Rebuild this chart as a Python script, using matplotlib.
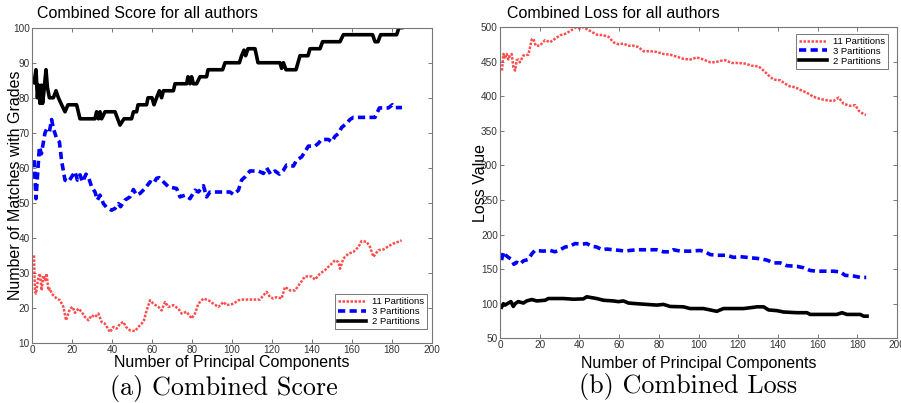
import matplotlib
matplotlib.use("Agg")
import matplotlib.pyplot as plt

# ---------------- data ----------------
# (a) Combined Score
score_p2_x = [1, 2, 2.7, 3.3, 4, 4.7, 5.3, 6, 7, 7.7, 8.7, 10.7, 12, 13.2, 14.8, 16.5, 18, 22.3, 24,
              31.5, 32.3, 33.2, 34, 34.8, 36.5, 41.5, 44, 46, 49.8, 50.7, 52.3, 53, 57.3, 58, 60, 61,
              62.3, 63.7, 64.8, 65.7, 70.7, 71.5, 77.3, 78, 79, 79.8, 80.7, 82.3, 84, 87.3, 88, 95.3,
              96.5, 103.7, 104.8, 106, 106.8, 108, 111.5, 113, 124, 124.8, 125.7, 127, 132, 134, 138,
              139, 144, 145.3, 154, 155.7, 170.3, 171.5, 173, 174.3, 182.3, 183.5, 184.8]
score_p2_y = [84.3, 88, 80, 83.6, 78.4, 83.6, 78.4, 82, 88, 83, 80, 80, 82, 80, 78, 76, 78, 78, 74,
              74, 76, 74, 76, 74, 76, 76, 72.2, 74, 74, 76, 76, 78, 78, 80, 80, 78,
              80, 82, 80, 82, 82, 84, 84, 86, 84, 86, 84, 84, 86, 86, 88, 88,
              90, 90, 92, 93.6, 92, 94, 94, 90, 90, 88.4, 90, 88, 88, 92, 92,
              94, 94, 96, 96, 98, 98, 96, 96, 98, 98, 100, 100]

score_p3_x = [1, 2, 3, 3.7, 4.7, 6.5, 7.3, 8.7, 9.8, 10.7, 12.3, 13.7, 14.8, 16.5, 18.2, 19.8, 21.5,
              22.7, 24, 25.3, 27, 28.2, 29.8, 31.5, 32.7, 34, 35.7, 37.3, 39.8, 41.5, 43.2, 44.3,
              46.5, 49, 50.7, 52.3, 54, 56.5, 59, 60.7, 62.3, 63.5, 65.7, 68.2, 72.3, 74, 76.5, 79,
              81.5, 83.2, 85.7, 87.3, 89, 92.3, 99, 100.7, 103.2, 104.8, 106.5, 109, 113.2, 115.7,
              117.3, 119.3, 121.5, 123.7, 125.7, 127.3, 130.7, 132.3, 134.8, 136.5, 138.2, 141.5,
              143.2, 144.8, 148.2, 149.8, 151.5, 153.2, 154.8, 157.3, 159, 160.7, 171.5, 173.7,
              178.2, 180.2, 181.5, 183.2, 185]
score_p3_y = [62.2, 51.2, 60, 66, 64, 70, 71, 70.3, 73.8, 71.2, 68.4, 67.4, 62, 56.5, 56, 57.4, 58.9,
              56.5, 58, 56, 58.2, 57.4, 54.6, 53.1, 50.8, 52.2, 49.8, 48.7, 47.9, 48.4, 49.8, 48.9,
              50.8, 51.7, 53.8, 52.2, 52.7, 54.1, 56, 55.5, 57, 57.2, 56, 54.6, 54.1, 51.7, 52.2, 51.2,
              53.6, 53.1, 54.9, 51.7, 53.1, 53.1, 53.1, 52.4, 53.6, 56.5, 57.4, 59.1, 59.1, 58.4,
              60, 58.2, 59.1, 58.2, 59.3, 60.8, 60.5, 62.2, 63.1, 64.6, 66.2, 66.2,
              67, 68.1, 68.1, 67.4, 69, 69.8, 71.5, 72.7, 73.8, 74.4, 74.4, 77.1,
              77.1, 78, 77.2, 77.2, 77.2]

score_p11_x = [1, 1.5, 2, 3.2, 4, 4.8, 5.7, 6.5, 7.3, 8.2, 9, 9.8, 10.7, 12.3, 14, 15.7, 17, 19, 20.3,
               21.5, 23.2, 24.8, 26.5, 28.2, 29.8, 31.5, 33.2, 34.8, 36.5, 39, 40.7, 42.3, 44, 45.7,
               47, 49, 51.5, 53.2, 54.8, 56, 57.3, 59, 60.7, 63.2, 64.8, 66.5, 68.2, 70.7, 73.2,
               74.8, 77.3, 79.8, 81.5, 83.2, 85.7, 88.2, 90.7, 93.2, 95.7, 97.3, 100.7, 103.2,
               105.7, 114, 115.7, 117.3, 119, 120.7, 122.3, 124.8, 126.5, 129, 131.5, 134, 136.5,
               139.8, 141.5, 144, 146.5, 149, 151.5, 153.2, 154, 155.7, 158.2, 160.7, 163.2, 164.8,
               167.3, 169, 170.7, 173.2, 175.7, 178.2, 180.7, 183.2, 184.8]
score_p11_y = [35, 24.6, 24.1, 28.9, 29.8, 25, 29.3, 27.9, 29.8, 25, 25.5, 24.1, 23.6, 22.7, 22.2,
               20.3, 16.5, 19.8, 20.3, 18.6, 19.8, 18.9, 17.4, 16.5, 17.9, 17.4, 18.4, 16, 15.5,
               13.1, 14.6, 14.1, 15.5, 16, 14.6, 13.6, 13.4, 14.6, 15.5, 16.5, 19.3, 22.2, 21.2,
               20.3, 19.3, 21.7, 20.3, 20.8, 19.8, 18.4, 18.9, 17, 18.4, 21.2, 22.7, 22.2, 21.2,
               20.3, 21.7, 20.8, 21.2, 22.2, 22.4, 22.4, 23.6, 24.6, 23.1, 22.7, 23.1, 22.7, 26,
               25, 25, 27, 29, 29, 28.1, 29.8, 30.8, 32.2, 33.6, 33.1, 31.2, 34.1, 35.5, 36, 37.4,
               39.1, 38.9, 37.4, 34.6, 36.5, 36.7, 37.6, 38.4, 38.9, 39.3]

# (b) Combined Loss
loss_p11_x = [1, 1.7, 2.5, 3.4, 4.2, 5, 5.9, 6.7, 7.6, 8.4, 9.2, 10, 11.8, 14.3, 16, 16.8, 18, 20,
              22.7, 25.2, 27.7, 30.3, 32.8, 35.3, 37.8, 40.3, 42, 43.7, 46.2, 48.7, 52.1, 54.6,
              57.1, 59.7, 62.2, 64.7, 67.2, 69.7, 72.3, 75.6, 79, 82.4, 85.7, 89.1, 92.4, 95.8,
              99.2, 102.5, 105.9, 108.4, 110.9, 113.4, 116.8, 120.2, 123.5, 126.9, 130.3, 132.8,
              135.3, 137.8, 141.2, 143.7, 146.2, 148.7, 151.3, 154.6, 158, 161.3, 164.7, 168,
              170.6, 173.1, 176.5, 179, 180.7, 183.2, 184.4]
loss_p11_y = [437, 461, 456, 461, 453, 459, 461, 442, 437, 452, 453, 449, 459, 460, 482, 483, 473, 473,
              481, 478, 483, 488, 490, 494, 499, 498, 500, 497, 493, 489, 488, 486,
              478, 475, 476, 473, 473, 471, 465, 465, 464, 461, 460, 457, 454, 453,
              456, 453, 449, 449, 451, 452, 448, 448, 447, 444, 443, 437,
              430, 424, 423, 418, 414, 413, 409, 405, 399, 396, 394, 393,
              398, 389, 386, 387, 379, 374, 373]

loss_p3_x = [0.8, 1.7, 2.5, 4.2, 5.9, 7, 8.4, 10, 11.8, 14.3, 16, 17.6, 21.8, 25.2, 27.7, 30.3, 32.8,
             35.3, 37.8, 41.2, 43.7, 46.2, 48.7, 51.3, 53.8, 57.1, 60.5, 63, 65.5, 68.9, 72.3, 75.6,
             79, 82.4, 85.7, 87.4, 90.8, 95.8, 100.8, 103.4, 105.9, 109.2, 114.3, 117.6, 121,
             124.4, 127.7, 131.1, 134.5, 137.8, 141.2, 144.5, 149.6, 152.9, 156.3, 159.7, 168,
             171.4, 173.9, 178.2, 181.5, 184.5]
loss_p3_y = [163, 175, 171, 167, 164, 157, 160, 157, 162, 164, 172, 177, 176, 177, 175, 178, 182,
             183, 187, 186, 187, 183, 182, 178, 179, 178, 177, 176, 177, 178, 178, 178,
             178, 175, 175, 178, 176, 176, 177, 175, 171, 170, 170, 167, 168,
             167, 166, 165, 163, 159, 159, 155, 154, 152, 148, 147, 147,
             146, 141, 140, 138, 138]

loss_p2_x = [0.8, 1.7, 2.5, 4.2, 5.5, 6.7, 7.6, 9.2, 11.8, 13.4, 16, 18.5, 22.7, 24.4, 31.9, 37, 42,
             43.7, 48.7, 52.1, 57.1, 59.7, 62.2, 64.7, 68.9, 73.9, 79, 82.4, 85.7, 92.4, 95.8,
             102.5, 105.9, 109.2, 112.6, 122.7, 126.9, 129.4, 132.8, 135.3, 139.5, 142.9, 149.6,
             154.6, 156.3, 169.7, 172.3, 174.8, 181.5, 183.2, 184.9]
loss_p2_y = [95, 100, 98, 101, 103, 96, 100, 103, 101, 104, 106, 104, 105, 107.5, 107.5, 106.5, 107,
             110, 107.5, 105, 104, 103, 104, 101, 100, 99, 98, 99, 96, 95.5, 93,
             93, 91, 89, 93, 93, 94.5, 95.5, 95.5, 91, 90, 88, 87,
             87, 84.5, 84.5, 87, 84.5, 84.5, 82, 82]

score_yticks = [10, 20, 30, 40, 50, 60, 70, 80, 90, 100]
loss_yticks = [50, 100, 150, 200, 250, 300, 350, 400, 450, 500]
x_ticks = [0, 20, 40, 60, 80, 100, 120, 140, 160, 180, 200]
legend_labels = ["11 Partitions", "3 Partitions", "2 Partitions"]

# ---------------- drawing ----------------
plt.rcParams['font.family'] = ['Liberation Sans', 'DejaVu Sans']
fig = plt.figure(figsize=(9.01, 4.03), dpi=100)

ax1 = fig.add_axes([32/901, 1-343/403, 400/901, (343-27.7)/403])
ax2 = fig.add_axes([500/901, 1-338.3/403, 397/901, (338.3-27)/403])

red_style = dict(color='#ff2020', linestyle=(0, (1, 0.6)), lw=1.8, alpha=0.8)
blue_style = dict(color='#0000ff', linestyle=(0, (2.0, 1.2)), lw=2.6)
black_style = dict(color='black', linestyle='-', lw=2.6)

ax1.plot(score_p11_x, score_p11_y, label=legend_labels[0], **red_style)
ax1.plot(score_p3_x, score_p3_y, label=legend_labels[1], **blue_style)
ax1.plot(score_p2_x, score_p2_y, label=legend_labels[2], **black_style)
ax1.set_ylim(10, 100)
ax1.set_yticks(score_yticks)

ax2.plot(loss_p11_x, loss_p11_y, label=legend_labels[0], **red_style)
ax2.plot(loss_p3_x, loss_p3_y, label=legend_labels[1], **blue_style)
ax2.plot(loss_p2_x, loss_p2_y, label=legend_labels[2], **black_style)
ax2.set_ylim(50, 500)
ax2.set_yticks(loss_yticks)

for ax in (ax1, ax2):
    ax.set_xlim(0, 200)
    ax.set_xticks(x_ticks)
    for sp in ax.spines.values():
        sp.set_color('#777777')
        sp.set_linewidth(0.8)
    ax.tick_params(direction='in', length=3, width=0.7, color='#777777',
                   labelsize=7.2, labelcolor='#333333', top=True, right=True, pad=1.5)
    leg = ax.legend(fontsize=6.8, frameon=True, fancybox=False, edgecolor='#555555',
                    handlelength=3.0, borderpad=0.3, labelspacing=0.1, handletextpad=0.6,
                    borderaxespad=0.0)
    leg.get_frame().set_linewidth(0.7)

ax1.legend_.set_bbox_to_anchor((427/901, 1-329/403), transform=fig.transFigure)
ax1.legend_._loc = 4
ax2.legend_.set_bbox_to_anchor((888/901, 1-34/403), transform=fig.transFigure)
ax2.legend_._loc = 1

ax1.set_xlabel("Number of Principal Components", fontsize=11.5, labelpad=0)
ax2.set_xlabel("Number of Principal Components", fontsize=11.5, labelpad=0)
ax1.set_ylabel("Number of Matches with Grades", fontsize=11.5)
ax2.set_ylabel("Loss Value", fontsize=11.5)
ax1.yaxis.set_label_coords(-0.023, 0.5)
ax2.yaxis.set_label_coords(-0.03, 0.5)
ax1.xaxis.set_label_coords(0.5, -0.038)
ax2.xaxis.set_label_coords(0.5, -0.057)

fig.text(37/901, 1-14/403, "Combined Score for all authors", fontsize=11.5, va='center', ha='left')
fig.text(507/901, 1-14/403, "Combined Loss for all authors", fontsize=11.5, va='center', ha='left')

fig.text(224/901, 1-388/403, "(a) Combined Score", fontsize=18.8, va='center', ha='center',
         family='cmr10')
fig.text(688/901, 1-387/403, "(b) Combined Loss", fontsize=18.8, va='center', ha='center',
         family='cmr10')

fig.savefig("out.png", dpi=100)
